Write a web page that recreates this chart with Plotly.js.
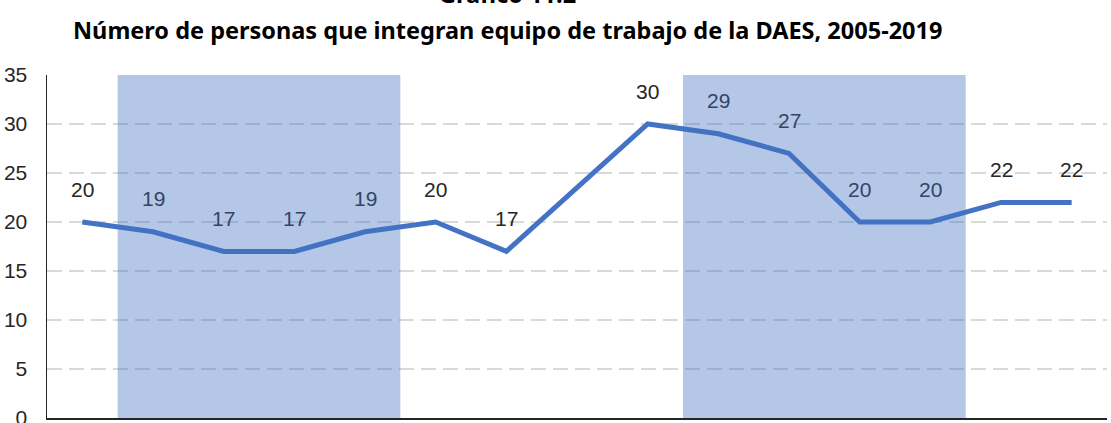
<!DOCTYPE html>
<html>
<head>
<meta charset="utf-8">
<script src="https://cdn.plot.ly/plotly-3.0.1.min.js"></script>
<style>html,body{margin:0;padding:0;background:#fff;}#chart{width:1111px;height:423px;}</style>
</head>
<body>
<div id="chart"></div>
<script>
// ---- data ----
const years = [2005, 2006, 2007, 2008, 2009, 2010, 2011, 2012, 2013, 2014, 2015, 2016, 2017, 2018, 2019];
const personas = [20, 19, 17, 17, 19, 20, 17, null, 30, 29, 27, 20, 20, 22, 22];
const periodStart = [2006, 2014];
const periodEnd = [2009, 2017];
const titleLine1 = 'Gráfico 11.2';
const titleLine2 = 'Número de personas que integran equipo de trabajo de la DAES, 2005-2019';
const yTicks = [0, 5, 10, 15, 20, 25, 30, 35];

// ---- styles ----
const lineColor = '#4472c4';
const bandAlpha = 0.4;
const labelBase = [38, 38, 38];
function blend(c) {
  const b = [68, 114, 196];
  return 'rgb(' + c.map((v, i) => Math.round(v * (1 - bandAlpha) + b[i] * bandAlpha)).join(',') + ')';
}
function inBand(x) {
  for (let i = 0; i < periodStart.length; i++) {
    if (x >= periodStart[i] - 0.5 && x <= periodEnd[i] + 0.5) return true;
  }
  return false;
}

const trace = {
  x: years,
  y: personas,
  type: 'scatter',
  mode: 'lines',
  connectgaps: true,
  line: {color: lineColor, width: 5, shape: 'linear'},
  hoverinfo: 'skip',
  showlegend: false
};

const shapes = periodStart.map((s, i) => ({
  type: 'rect', xref: 'x', yref: 'paper',
  x0: s - 0.5, x1: periodEnd[i] + 0.5, y0: 0, y1: 1,
  fillcolor: 'rgba(68,114,196,' + bandAlpha + ')',
  line: {width: 0}, layer: 'above'
}));

const annotations = [];
years.forEach((yr, i) => {
  if (personas[i] === null) return;
  annotations.push({
    x: yr, y: personas[i], xref: 'x', yref: 'y',
    text: String(personas[i]), showarrow: false,
    yshift: 33, xanchor: 'center', yanchor: 'middle',
    font: {family: 'Liberation Sans, Arial, sans-serif', size: 21,
           color: inBand(yr) ? blend(labelBase) : 'rgb(' + labelBase.join(',') + ')'}
  });
});
annotations.push({
  xref: 'paper', yref: 'paper', x: 0.434, y: 1.236, xanchor: 'center', yanchor: 'middle',
  text: '<b>' + titleLine1 + '</b>', showarrow: false,
  font: {family: 'Noto Sans, Open Sans, sans-serif', size: 23.5, color: '#000'}
});
annotations.push({
  xref: 'paper', yref: 'paper', x: 0.434, y: 1.131, xanchor: 'center', yanchor: 'middle',
  text: '<b>' + titleLine2 + '</b>', showarrow: false,
  font: {family: 'Noto Sans, Open Sans, sans-serif', size: 23.5, color: '#000'}
});

const layout = {
  width: 1111, height: 423,
  margin: {l: 47, r: 4, t: 75, b: 5, pad: 0},
  paper_bgcolor: '#fff', plot_bgcolor: '#fff',
  xaxis: {
    range: [years[0] - 0.5, years[years.length - 1] + 0.5],
    showgrid: false, zeroline: false, showticklabels: false, ticks: '',
    showline: true, linecolor: '#262626', linewidth: 1.5, fixedrange: true
  },
  yaxis: {
    range: [0, 35], tickvals: yTicks, ticktext: yTicks.map(String),
    showgrid: true, gridcolor: '#d9d9d9', gridwidth: 1.5, griddash: '15px,7px',
    zeroline: false, ticks: '', ticklabelstandoff: 14, ticklabeloverflow: 'allow',
    showline: true, linecolor: '#262626', linewidth: 1.5,
    tickfont: {family: 'Liberation Sans, Arial, sans-serif', size: 21, color: '#262626'},
    fixedrange: true
  },
  shapes: shapes,
  annotations: annotations
};

Plotly.newPlot('chart', [trace], layout, {displayModeBar: false, staticPlot: true});
</script>
</body>
</html>
